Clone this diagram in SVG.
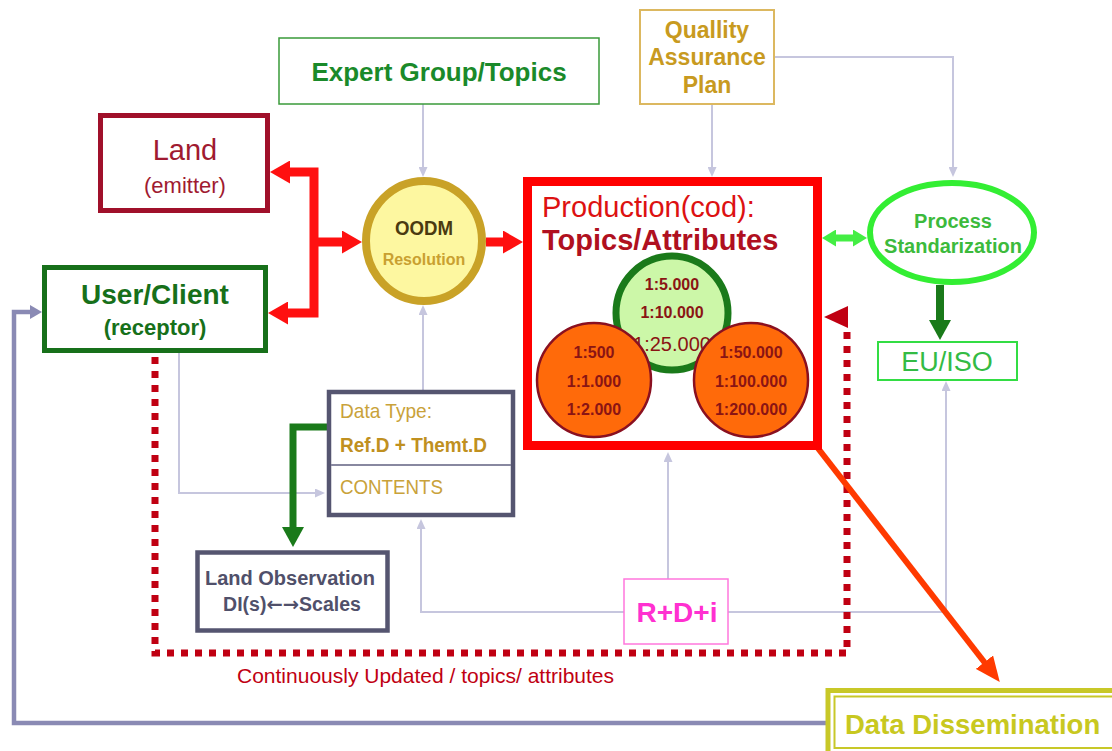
<svg xmlns="http://www.w3.org/2000/svg" width="1112" height="751" viewBox="0 0 1112 751">
<defs>
<style>
text { font-family: "Liberation Sans", Arial, sans-serif; }
.c { text-anchor: middle; }
.b { font-weight: bold; }
.lav { fill: none; stroke: #c6c6de; stroke-width: 2; marker-end: url(#m-lav); }
.red { fill: none; stroke: #ff1010; stroke-width: 9; stroke-linejoin: miter; }
.scale { font-size: 16px; font-weight: bold; fill: #8a1414; text-anchor: middle; }
.orange { fill: #ff6a0a; stroke: #8a1020; stroke-width: 2.5; }
.slate { fill: #fff; stroke: #555570; stroke-width: 4.5; }
.gold { fill: #c9a23a; }
.arrowglyph { font-family: "DejaVu Sans", sans-serif; font-weight: bold; }
</style>
<marker id="m-lav" viewBox="0 0 10 9" refX="1" refY="4.5" markerWidth="10" markerHeight="9" markerUnits="userSpaceOnUse" orient="auto"><path d="M0,0 L10,4.5 L0,9 z" fill="#c6c6de"/></marker>
<marker id="m-red" viewBox="0 0 20 23" refX="1" refY="11.5" markerWidth="20" markerHeight="23" markerUnits="userSpaceOnUse" orient="auto-start-reverse"><path d="M0,0 L20,11.5 L0,23 z" fill="#ff1010"/></marker>
<marker id="m-lgreen" viewBox="0 0 14 17" refX="1" refY="8.5" markerWidth="14" markerHeight="17" markerUnits="userSpaceOnUse" orient="auto-start-reverse"><path d="M0,0 L14,8.5 L0,17 z" fill="#44ee44"/></marker>
<marker id="m-dgreen" viewBox="0 0 20 22" refX="1" refY="11" markerWidth="20" markerHeight="22" markerUnits="userSpaceOnUse" orient="auto"><path d="M0,0 L20,11 L0,22 z" fill="#1a7a1a"/></marker>
<marker id="m-orange" viewBox="0 0 25 22" refX="1" refY="11" markerWidth="25" markerHeight="22" markerUnits="userSpaceOnUse" orient="auto"><path d="M0,0 L25,11 L0,22 z" fill="#ff3a00"/></marker>
<marker id="m-purple" viewBox="0 0 12 14" refX="1" refY="7" markerWidth="12" markerHeight="14" markerUnits="userSpaceOnUse" orient="auto"><path d="M0,0 L12,7 L0,14 z" fill="#8a8ab4"/></marker>
</defs>
<rect width="1112" height="751" fill="#ffffff"/>

<g id="connectors">
  <path class="lav" d="M423,104 V168"/>
  <path class="lav" d="M712,104 V168"/>
  <path class="lav" d="M774,57 H953 V168"/>
  <path class="lav" d="M423,390 V314"/>
  <path class="lav" d="M179,353 V493 H316"/>
  <path class="lav" d="M624,612 H421 V528"/>
  <path class="lav" d="M668,579 V461"/>
  <path class="lav" d="M728,612 H946 V390"/>
  <path d="M826,723 H14 V312 H31" fill="none" stroke="#8a8ab4" stroke-width="4.5" marker-end="url(#m-purple)"/>
  <path d="M155,357 V653 H847 V330" fill="none" stroke="#c00012" stroke-width="7" stroke-dasharray="7 7"/>
  <polygon points="824,317 848,306 848,328" fill="#c00012"/>
  <path class="red" d="M289,172 H314 V313 H287" marker-start="url(#m-red)" marker-end="url(#m-red)"/>
  <path class="red" d="M314,242 H343" marker-end="url(#m-red)"/>
  <path class="red" d="M486,242 H504" marker-end="url(#m-red)"/>
  <path d="M835,238 H854" fill="none" stroke="#44ee44" stroke-width="7" marker-start="url(#m-lgreen)" marker-end="url(#m-lgreen)"/>
  <path d="M940,285 V321" fill="none" stroke="#1a7a1a" stroke-width="8" marker-end="url(#m-dgreen)"/>
  <path d="M327,427 H293 V528" fill="none" stroke="#1a7a1a" stroke-width="7" stroke-linejoin="miter" marker-end="url(#m-dgreen)"/>
  <path d="M817,447 L985,663" fill="none" stroke="#ff3a00" stroke-width="6" marker-end="url(#m-orange)"/>
</g>

<g id="expert-group">
  <rect x="279" y="38" width="320" height="66" fill="#fff" stroke="#3a9a3a" stroke-width="1.5"/>
  <text x="439" y="81" class="c b" font-size="26" fill="#1a8a2a">Expert Group/Topics</text>
</g>

<g id="quality">
  <rect x="640" y="10" width="134" height="94" fill="#fff" stroke="#dcb860" stroke-width="2"/>
  <text x="707" y="38" class="c b" font-size="23" fill="#c89a20">Quallity</text>
  <text x="707" y="65" class="c b" font-size="23" fill="#c89a20">Assurance</text>
  <text x="707" y="93" class="c b" font-size="23" fill="#c89a20">Plan</text>
</g>

<g id="land">
  <rect x="100.5" y="115.5" width="167" height="95" fill="#fff" stroke="#a0102a" stroke-width="5"/>
  <text x="185" y="160" class="c" font-size="29" fill="#a01a30">Land</text>
  <text x="185" y="193" class="c" font-size="22" fill="#a01a30">(emitter)</text>
</g>

<g id="user-client">
  <rect x="44.5" y="267.5" width="221" height="83" fill="#fff" stroke="#17701a" stroke-width="5"/>
  <text x="155" y="304" class="c b" font-size="28" fill="#17701a">User/Client</text>
  <text x="155" y="335" class="c b" font-size="22" fill="#17701a">(receptor)</text>
</g>

<g id="oodm">
  <ellipse cx="424" cy="241" rx="58" ry="60" fill="#fdf7a0" stroke="#c9a227" stroke-width="8"/>
  <text x="424" y="235" class="c b" font-size="21" fill="#4a3a10" textLength="58" lengthAdjust="spacingAndGlyphs">OODM</text>
  <text x="424" y="265" class="c b" font-size="16" fill="#c9a030">Resolution</text>
</g>

<g id="production">
  <rect x="527.5" y="181.5" width="290" height="264" fill="#fff" stroke="#ff0000" stroke-width="9"/>
  <text x="542" y="217" font-size="29" fill="#dd1111">Production(cod):</text>
  <text x="542" y="250" class="b" font-size="29" fill="#b01020">Topics/Attributes</text>
  <g id="scale-medium">
    <ellipse cx="672" cy="313" rx="56" ry="57" fill="#ccf7a8" stroke="#1a7a1a" stroke-width="7"/>
    <text x="672" y="290" class="scale">1:5.000</text>
    <text x="672" y="318" class="scale">1:10.000</text>
    <text x="672" y="351" font-size="20" fill="#8a1414" class="c">1:25.000</text>
  </g>
  <g id="scale-large">
    <ellipse cx="594" cy="380" rx="57" ry="57" class="orange"/>
    <text x="594" y="358" class="scale">1:500</text>
    <text x="594" y="387" class="scale">1:1.000</text>
    <text x="594" y="415" class="scale">1:2.000</text>
  </g>
  <g id="scale-small">
    <ellipse cx="751" cy="380" rx="57" ry="57" class="orange"/>
    <text x="751" y="358" class="scale">1:50.000</text>
    <text x="751" y="387" class="scale">1:100.000</text>
    <text x="751" y="415" class="scale">1:200.000</text>
  </g>
</g>

<g id="process">
  <ellipse cx="952" cy="232.5" rx="82" ry="49.5" fill="#fff" stroke="#33ee33" stroke-width="6"/>
  <text x="953" y="228" class="c b" font-size="20" fill="#3cba3c">Process</text>
  <text x="953" y="253" class="c b" font-size="20" fill="#3cba3c">Standarization</text>
</g>

<g id="eu-iso">
  <rect x="878" y="342" width="139" height="38" fill="#fff" stroke="#33dd44" stroke-width="2"/>
  <text x="947" y="371" class="c" font-size="27" fill="#33bb44">EU/ISO</text>
</g>

<g id="data-type">
  <rect x="329" y="392" width="184" height="123" class="slate"/>
  <line x1="331" y1="465" x2="511" y2="465" stroke="#8888a0" stroke-width="2"/>
  <text x="340" y="418" font-size="21" class="gold" textLength="92" lengthAdjust="spacingAndGlyphs">Data Type:</text>
  <text x="340" y="452" font-size="21" class="b" fill="#c09020" textLength="147" lengthAdjust="spacingAndGlyphs">Ref.D + Themt.D</text>
  <text x="340" y="494" font-size="21" class="gold" textLength="103" lengthAdjust="spacingAndGlyphs">CONTENTS</text>
</g>

<g id="land-observation">
  <rect x="197.5" y="552.5" width="190" height="78" class="slate"/>
  <text x="290" y="585" class="c b" font-size="20" fill="#50506a">Land Observation</text>
  <text x="292" y="611" class="c b" font-size="19.5" fill="#50506a">DI(s)<tspan class="arrowglyph">←→</tspan>Scales</text>
</g>

<g id="rdi">
  <rect x="624" y="579" width="104" height="65" fill="#fff" stroke="#ff77dd" stroke-width="1.5"/>
  <text x="677" y="622" class="c b" font-size="28" fill="#ff30d0">R+D+i</text>
</g>

<g id="update-label">
  <text x="237" y="683" font-size="21" fill="#c00012">Continuously Updated / topics/ attributes</text>
</g>

<g id="data-dissemination">
  <rect x="828" y="690.5" width="300" height="80" fill="#fff" stroke="#c8c828" stroke-width="5"/>
  <rect x="834.5" y="696.5" width="300" height="51.5" fill="none" stroke="#c8c828" stroke-width="2"/>
  <text x="845" y="734" class="b" font-size="27.5" fill="#c8c820">Data Dissemination</text>
</g>
</svg>
